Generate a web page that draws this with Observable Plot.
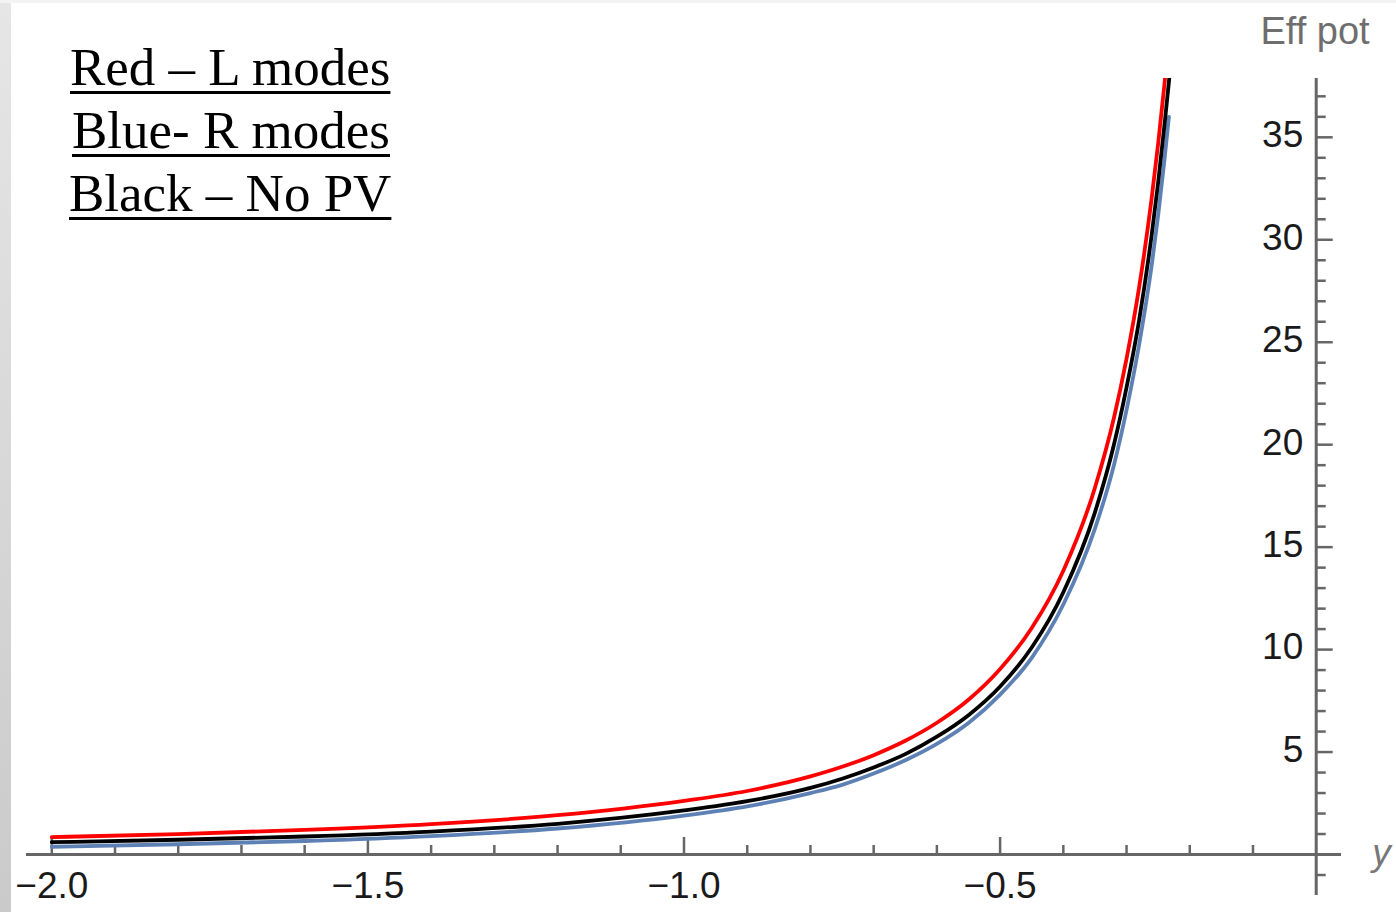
<!DOCTYPE html>
<html>
<head>
<meta charset="utf-8">
<script src="https://cdn.jsdelivr.net/npm/d3@7"></script>
<script src="https://cdn.jsdelivr.net/npm/@observablehq/plot@0.6"></script>
<style>
  html, body { margin: 0; padding: 0; background: #fff; }
  #wrap { position: relative; width: 1396px; height: 912px; overflow: hidden; background: #fff; }
  #strip { position: absolute; left: 0; top: 0; width: 11px; height: 912px; background: linear-gradient(#e6e6e6, #cacaca); }
  #topstrip { position: absolute; left: 0; top: 0; width: 1396px; height: 3px; background: #f3f3f3; }
  #legend { position: absolute; left: 70px; top: 35.5px; font-family: "Liberation Serif", "Times New Roman", serif;
            font-size: 53px; line-height: 63px; color: #000; }
  #legend div { text-decoration: underline; text-decoration-thickness: 3px; text-underline-offset: 6px; white-space: nowrap; }
  #chart svg { display: block; }
</style>
</head>
<body>
<div id="wrap">
  <div id="chart"></div>
  <div id="strip"></div>
  <div id="topstrip"></div>
  <div id="legend"></div>
</div>
<script>
// ---- data ----
const xGrid = [-2.0, -1.8, -1.6, -1.4, -1.2, -1.0, -0.9, -0.8, -0.75, -0.7, -0.65, -0.6, -0.55, -0.5, -0.45, -0.4, -0.35, -0.32, -0.3, -0.28, -0.26, -0.25, -0.24, -0.233, -0.23, -0.22];
const redL   = [0.85, 1.00, 1.20, 1.48, 1.92, 2.62, 3.10, 3.81, 4.28, 4.85, 5.55, 6.43, 7.55, 9.05, 11.05, 13.85, 17.9, 21.3, 24.2, 27.7, 32.1, 34.7, 37.6, 39.9, 40.9, 44.8];
const blackNoPV = [0.60, 0.72, 0.88, 1.12, 1.50, 2.15, 2.60, 3.25, 3.70, 4.25, 4.90, 5.75, 6.80, 8.2, 10.1, 12.8, 16.7, 20.0, 22.8, 26.1, 30.3, 32.8, 35.6, 37.7, 38.7, 42.4];
const blueR  = [0.38, 0.50, 0.66, 0.90, 1.27, 1.90, 2.35, 3.00, 3.40, 3.95, 4.60, 5.40, 6.42, 7.8, 9.6, 12.2, 15.9, 19.0, 21.7, 24.9, 28.8, 31.2, 33.9, 36.0, null, null];

const xMajorTicks = [-2.0, -1.5, -1.0, -0.5];
const xTickLabels = ["\u22122.0", "\u22121.5", "\u22121.0", "\u22120.5"];
const xMinorTicks = [-1.9, -1.8, -1.7, -1.6, -1.4, -1.3, -1.2, -1.1, -0.9, -0.8, -0.7, -0.6, -0.4, -0.3, -0.2, -0.1];
const yMajorTicks = [5, 10, 15, 20, 25, 30, 35];
const yTickLabels = ["5", "10", "15", "20", "25", "30", "35"];
const yMinorTicks = [-1, 1, 2, 3, 4, 6, 7, 8, 9, 11, 12, 13, 14, 16, 17, 18, 19, 21, 22, 23, 24, 26, 27, 28, 29, 31, 32, 33, 34, 36, 37];
const legendLines = ["Red \u2013 L modes", "Blue- R modes", "Black \u2013 No PV"];
const yAxisTitle = "Eff pot";
const xAxisTitle = "y";

// ---- build tables ----
const toRows = vals => xGrid.map((x, i) => ({x, v: vals[i]})).filter(d => d.v != null);
const redRows = toRows(redL), blackRows = toRows(blackNoPV), blueRows = toRows(blueR);
const xTickRows = xMajorTicks.map((t, i) => ({t, label: xTickLabels[i]}));
const yTickRows = yMajorTicks.map((t, i) => ({t, label: yTickLabels[i]}));

const axisColor = "#666666";
const font = "'Liberation Sans', Arial, sans-serif";

const chart = Plot.plot({
  width: 1396,
  height: 912,
  marginLeft: 26,
  marginRight: 55,
  marginTop: 78,
  marginBottom: 17,
  x: {domain: [-2.04, 0.04], axis: null},
  y: {domain: [-2.0, 37.87], axis: null},
  style: {background: "transparent", fontFamily: font, overflow: "visible"},
  marks: [
    // axes lines
    Plot.ruleY([0], {y: d => d, stroke: axisColor, strokeWidth: 3}),
    Plot.ruleX([0], {x: d => d, stroke: axisColor, strokeWidth: 3}),
    // x ticks (pointing up)
    Plot.ruleX(xMinorTicks, {x: d => d, y1: () => 0, y2: () => 0, insetTop: -9, stroke: axisColor, strokeWidth: 2.5}),
    Plot.ruleX(xMajorTicks, {x: d => d, y1: () => 0, y2: () => 0, insetTop: -17, stroke: axisColor, strokeWidth: 2.5}),
    // y ticks (pointing right)
    Plot.ruleY(yMinorTicks, {y: d => d, x1: () => 0, x2: () => 0, insetRight: -10, stroke: axisColor, strokeWidth: 2.5}),
    Plot.ruleY(yMajorTicks, {y: d => d, x1: () => 0, x2: () => 0, insetRight: -17, stroke: axisColor, strokeWidth: 2.5}),
    // tick labels
    Plot.text(xTickRows, {x: "t", y: () => 0, text: "label", dy: 32, fontSize: 37, fill: "#1a1a1a"}),
    Plot.text(yTickRows, {x: () => 0, y: "t", text: "label", dx: -13, dy: -2, textAnchor: "end", fontSize: 37, fill: "#1a1a1a"}),
    // axis titles
    Plot.text([yAxisTitle], {frameAnchor: "top-right", text: d => d, dx: -81, dy: -35, textAnchor: "start", lineAnchor: "bottom", fontSize: 38, fill: "#6e6e6e"}),
    Plot.text([xAxisTitle], {x: () => 0, y: () => 0, text: d => d, dx: 56, dy: 10, textAnchor: "start", lineAnchor: "bottom", fontSize: 37, fontStyle: "italic", fill: "#777"}),
    // curves
    Plot.line(blueRows, {x: "x", y: "v", stroke: "#5E81B5", strokeWidth: 3.8, curve: "monotone-x", clip: true}),
    Plot.line(redRows, {x: "x", y: "v", stroke: "#FF0000", strokeWidth: 3.8, curve: "monotone-x", clip: true}),
    Plot.line(blackRows, {x: "x", y: "v", stroke: "#000000", strokeWidth: 3.8, curve: "monotone-x", clip: true})
  ]
});
document.getElementById("chart").appendChild(chart);

const legend = document.getElementById("legend");
legendLines.forEach((t, i) => {
  const div = document.createElement("div");
  div.textContent = t;
  if (i === 1) div.style.paddingLeft = "2px";
  if (i === 2) div.style.marginLeft = "-1px";
  legend.appendChild(div);
});
</script>
</body>
</html>
